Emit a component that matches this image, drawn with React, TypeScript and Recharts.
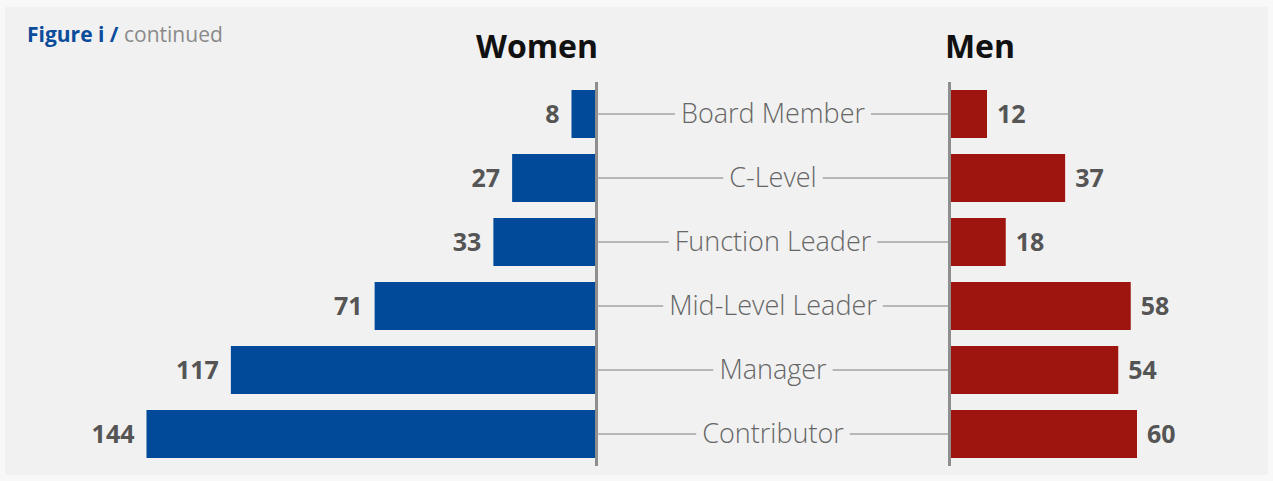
import { BarChart, Bar, XAxis, YAxis, LabelList, ReferenceLine } from 'recharts';

const roles = ['Board Member', 'C-Level', 'Function Leader', 'Mid-Level Leader', 'Manager', 'Contributor'];
const women = [8, 27, 33, 71, 117, 144];
const men = [12, 37, 18, 58, 54, 60];

const data = roles.map((role, i) => ({ role, women: women[i], men: men[i] }));

const FONT = "'Open Sans', sans-serif";
const GAP = 353; // distance between the two centre axes
const ROLE_FONT = `300 27px ${FONT}`;

let ctx: CanvasRenderingContext2D | null = null;
function textWidth(s: string, font: string) {
  if (!ctx) ctx = document.createElement('canvas').getContext('2d');
  if (!ctx) return s.length * 14;
  ctx.font = font;
  return ctx.measureText(s).width;
}

function RoleTick(props: any) {
  const { x, y, payload } = props;
  const cx = x + GAP / 2;
  const w = textWidth(payload.value, ROLE_FONT);
  return (
    <g>
      <line x1={x + 1} x2={cx - w / 2 - 6} y1={y} y2={y} stroke="#a3a3a3" strokeWidth={1.5} />
      <line x1={cx + w / 2 + 6} x2={x + GAP - 1} y1={y} y2={y} stroke="#a3a3a3" strokeWidth={1.5} />
      <text
        x={cx}
        y={y + 9}
        textAnchor="middle"
        fontFamily={FONT}
        fontWeight={300}
        fontSize={27}
        fill="#666"
      >
        {payload.value}
      </text>
    </g>
  );
}

// value label placed outside the bar's free end
function valueLabel(side: 'left' | 'right', gap: number) {
  return (props: any) => {
    const { x, y, width, height, value } = props;
    const lo = Math.min(x, x + width);
    const hi = Math.max(x, x + width);
    return (
      <text
        x={side === 'left' ? lo - gap : hi + gap}
        y={y + height / 2 + 9}
        textAnchor={side === 'left' ? 'end' : 'start'}
        fontFamily={FONT}
        fontWeight={700}
        fontSize={25}
        fill="#555"
      >
        {value}
      </text>
    );
  };
}

export default function App() {
  return (
    <div style={{ position: 'absolute', left: 0, top: 0, width: 1273, height: 481, background: '#f8f8f8' }}>
      <div style={{ position: 'absolute', left: 5, top: 7, width: 1263, height: 468, background: '#f1f1f1' }} />

      <div style={{ position: 'absolute', left: 27, top: 20, fontFamily: FONT, fontSize: 21, whiteSpace: 'nowrap' }}>
        <span style={{ color: '#0b4c9b', fontWeight: 700 }}>Figure i /</span>{' '}
        <span style={{ color: '#8a8a8a' }}>continued</span>
      </div>
      <div style={{ position: 'absolute', left: 437, width: 200, top: 24, textAlign: 'center', fontFamily: FONT, fontWeight: 700, fontSize: 32, color: '#111' }}>
        Women
      </div>
      <div style={{ position: 'absolute', left: 880, width: 200, top: 24, textAlign: 'center', fontFamily: FONT, fontWeight: 700, fontSize: 32, color: '#111' }}>
        Men
      </div>

      <div style={{ position: 'absolute', left: 0, top: 0 }}>
        <BarChart
          width={949.5}
          height={481}
          data={data}
          layout="vertical"
          margin={{ top: 82, right: 0, bottom: 15, left: 96.5 }}
        >
          <XAxis type="number" domain={[0, 160]} reversed hide />
          <YAxis
            type="category"
            dataKey="role"
            orientation="right"
            width={GAP}
            axisLine={false}
            tickLine={false}
            tickSize={0}
            tickMargin={0}
            tick={<RoleTick />}
            interval={0}
          />
          <Bar dataKey="women" fill="#004a99" barSize={48} isAnimationActive={false}>
            <LabelList dataKey="women" content={valueLabel('left', 12)} />
          </Bar>
          <ReferenceLine x={0} stroke="#8e8e8e" strokeWidth={3} />
        </BarChart>
      </div>

      <div style={{ position: 'absolute', left: 0, top: 0 }}>
        <BarChart
          width={1273}
          height={481}
          data={data}
          layout="vertical"
          margin={{ top: 82, right: 23.5, bottom: 15, left: 949.5 }}
        >
          <XAxis type="number" domain={[0, 96]} hide />
          <YAxis type="category" dataKey="role" hide width={0} />
          <Bar dataKey="men" fill="#9e1510" barSize={48} isAnimationActive={false}>
            <LabelList dataKey="men" content={valueLabel('right', 10)} />
          </Bar>
          <ReferenceLine x={0} stroke="#8e8e8e" strokeWidth={3} />
        </BarChart>
      </div>
    </div>
  );
}
